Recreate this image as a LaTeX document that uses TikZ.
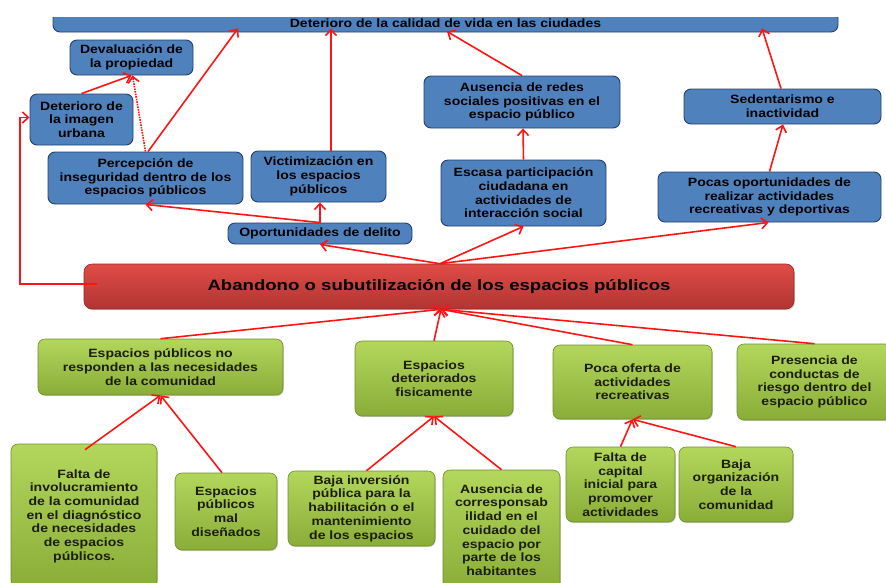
\documentclass[tikz,border=0pt]{standalone}
\usepackage{fontspec}
\setmainfont{Liberation Sans}[FakeStretch=1.17]
\newfontfamily\titlefont{Liberation Sans}[FakeStretch=1.24]
\usetikzlibrary{arrows.meta,shadows}
\definecolor{boxblue}{HTML}{4F81BD}
\definecolor{blueedge}{HTML}{24406A}
\definecolor{gtop}{HTML}{B3D65C}
\definecolor{gbot}{HTML}{8AAD38}
\definecolor{gedge}{HTML}{6E8D2A}
\definecolor{rtop}{HTML}{E04B47}
\definecolor{rbot}{HTML}{B13532}
\definecolor{redge}{HTML}{8C2A28}
\definecolor{arrred}{HTML}{FF1414}
\definecolor{gtext}{HTML}{1C1F05}
\tikzset{
  box/.style={rounded corners=7pt, align=center, inner sep=1pt,
    font=\bfseries\fontsize{12}{13.7}\selectfont},
  bluebox/.style={box, fill=boxblue, draw=blueedge, line width=0.9pt},
  greenbox/.style={box, top color=gtop, bottom color=gbot, draw=gedge, line width=0.6pt,
    text=gtext, drop shadow={shadow xshift=0.8pt, shadow yshift=-1.2pt, opacity=0.35}},
  redbox/.style={rounded corners=8pt, align=center, top color=rtop, bottom color=rbot,
    draw=redge, line width=0.6pt,
    font=\titlefont\bfseries\fontsize{15}{18}\selectfont,
    drop shadow={shadow xshift=0.8pt, shadow yshift=-1.2pt, opacity=0.35}},
  arr/.style={draw=arrred, line width=1.6pt, -{Straight Barb[length=6pt,width=11pt]}},
}
\begin{document}
\begin{tikzpicture}[x=1pt,y=-1pt]
\useasboundingbox (0,0) rectangle (886,582);
\clip (0,0) rectangle (886,582);

% top bar (cut at the top of the picture)
\begin{scope}
\clip (0,17) rectangle (886,60);
\node[bluebox, minimum width=785pt, minimum height=21pt, text height=12pt, text depth=0pt] (top) at (445.5,21.5)
  {Deterioro de la calidad de vida en las ciudades};
\end{scope}

% blue consequence boxes
\node[bluebox, minimum width=123pt, minimum height=35pt] (deval) at (131.5,57.5) {Devaluación de\\la propiedad};
\node[bluebox, minimum width=103pt, minimum height=51pt] (imagen) at (81.5,119.5) {Deterioro de\\la imagen\\urbana};
\node[bluebox, minimum width=195pt, minimum height=52pt] (perc) at (145.5,178) {Percepción de\\inseguridad dentro de los\\espacios públicos};
\node[bluebox, minimum width=135pt, minimum height=51pt] (vict) at (318.5,176.5) {Victimización en\\los espacios\\públicos};
\node[bluebox, minimum width=184pt, minimum height=21pt] (oport) at (320,233.5) {Oportunidades de delito};
\node[bluebox, minimum width=196pt, minimum height=52pt] (redes) at (522,102) {Ausencia de redes\\sociales positivas en el\\espacio público};
\node[bluebox, minimum width=165pt, minimum height=66pt] (escasa) at (523.5,193) {Escasa participación\\ciudadana en\\actividades de\\interacción social};
\node[bluebox, minimum width=197pt, minimum height=35pt] (sedent) at (782.5,106.5) {Sedentarismo e\\inactividad};
\node[bluebox, minimum width=223pt, minimum height=50pt] (pocas) at (769.5,197) {Pocas oportunidades de\\realizar actividades\\recreativas y deportivas};

% central problem
\node[redbox, minimum width=710pt, minimum height=45pt] (main) at (439,286.5) {Abandono o subutilización de los espacios públicos};

% green cause boxes
\node[greenbox, minimum width=245pt, minimum height=56pt] (resp) at (160.5,367) {Espacios públicos no\\responden a las necesidades\\de la comunidad};
\node[greenbox, minimum width=158pt, minimum height=75pt] (deter) at (434,378.5) {Espacios\\deteriorados\\fisicamente};
\node[greenbox, minimum width=159pt, minimum height=74pt] (poca) at (632.5,382) {Poca oferta de\\actividades\\recreativas};
\node[greenbox, minimum width=155pt, minimum height=76pt] (pres) at (814.5,382) {Presencia de\\conductas de\\riesgo dentro del\\espacio público};
\node[greenbox, minimum width=146pt, minimum height=144pt] (falta) at (84,516) {Falta de\\involucramiento\\de la comunidad\\en el diagnóstico\\de necesidades\\de espacios\\públicos.};
\node[greenbox, minimum width=102pt, minimum height=77pt] (maldis) at (226,511.5) {Espacios\\públicos\\mal\\diseñados};
\node[greenbox, minimum width=147pt, minimum height=75pt] (bajainv) at (361.5,508.5) {Baja inversión\\pública para la\\habilitación o el\\mantenimiento\\de los espacios};
\node[greenbox, minimum width=117pt, minimum height=120pt] (corresp) at (501.5,530) {Ausencia de\\corresponsab\\ilidad en el\\cuidado del\\espacio por\\parte de los\\habitantes};
\node[greenbox, minimum width=109pt, minimum height=75pt] (capital) at (620.5,484.5) {Falta de\\capital\\inicial para\\promover\\actividades};
\node[greenbox, minimum width=114pt, minimum height=75pt] (bajaorg) at (736,484.5) {Baja\\organización\\de la\\comunidad};

% connectors: upper part
\draw[arr] ([xshift=13pt,yshift=2.5pt]main.west) -- ++(-77pt,0) |- ([yshift=2pt]imagen.west);
\draw[arr] (imagen.north) -- (deval.south);
\draw[arr, densely dotted] (perc.north) -- ([xshift=1pt]deval.south);
\draw[arr] ([xshift=2.5pt]perc.north) -- ([xshift=-207.5pt,yshift=4pt]top.south);
\draw[arr] ([xshift=12.5pt]vict.north) -- ([xshift=-114.5pt,yshift=4pt]top.south);
\draw[arr] (oport.north) -- ([xshift=1.5pt]vict.south);
\draw[arr] (oport.north) -- (perc.south);
\draw[arr] ([xshift=1pt]main.north) -- (oport.south);
\draw[arr] ([xshift=1pt]main.north) -- (escasa.south);
\draw[arr] ([xshift=1pt]main.north) -- ([xshift=-1pt]pocas.south);
\draw[arr] (escasa.north) -- ([xshift=1pt]redes.south);
\draw[arr] (redes.north) -- ([xshift=1.5pt,yshift=1pt]top.south);
\draw[arr] (pocas.north) -- ([xshift=0.5pt]sedent.south);
\draw[arr] ([xshift=-1.5pt]sedent.north) -- ([xshift=316.5pt,yshift=4pt]top.south);

% connectors: lower part
\draw[arr] (resp.north) -- ([xshift=2pt]main.south);
\draw[arr] (deter.north) -- ([xshift=2pt]main.south);
\draw[arr] (poca.north) -- ([xshift=2pt]main.south);
\draw[arr] (pres.north) -- ([xshift=2pt]main.south);
\draw[arr] ([xshift=1pt,yshift=-6pt]falta.north) -- (resp.south);
\draw[arr] ([xshift=-4pt]maldis.north) -- (resp.south);
\draw[arr] ([xshift=5pt]bajainv.north) -- (deter.south);
\draw[arr] (corresp.north) -- (deter.south);
\draw[arr] (capital.north) -- (poca.south);
\draw[arr] (bajaorg.north) -- (poca.south);
\end{tikzpicture}
\end{document}
